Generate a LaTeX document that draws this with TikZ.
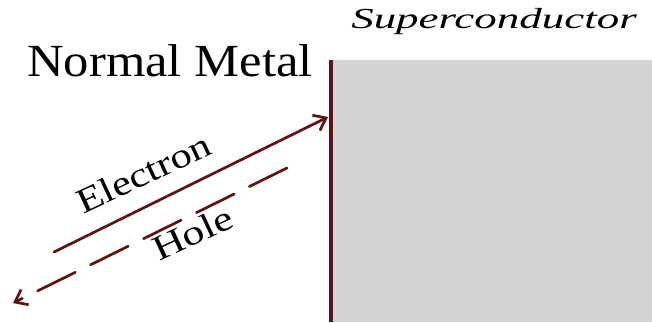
\documentclass[tikz,border=0pt]{standalone}
\usepackage{fontspec}
\setmainfont{Liberation Serif}
\usetikzlibrary{arrows.meta}
\definecolor{maroonline}{RGB}{95,18,18}
\definecolor{scgray}{RGB}{211,211,211}
\tikzset{
  wire/.style={draw=maroonline, line width=2.7pt, line cap=round},
  holewire/.style={wire, dash pattern=on 42pt off 17pt},
  barb/.style={-{Straight Barb[length=11pt,width=17pt,line width=2.7pt]}},
  bigtext/.style={inner sep=0pt, anchor=base, text=black},
  slanttext/.style={inner sep=0pt, anchor=base west, rotate=25, text=black}
}
\begin{document}
\begin{tikzpicture}[x=1pt,y=-1pt]
\useasboundingbox (0,0) rectangle (652,322);
% superconductor block
\fill[scgray] (333,60) rectangle (652,322);
% interface
\coordinate (itop) at (331,60);
\coordinate (ibot) at (331,322);
\draw[draw=maroonline, line width=3.5pt] (itop) -- (ibot);
% labels
\node[bigtext] (nm) at (170,76) {\scalebox{1.1}[1]{\fontsize{46}{46}\selectfont Normal Metal}};
\node[bigtext] (sc) at (494,28) {\scalebox{1.55}[1]{\fontsize{29}{29}\selectfont\itshape Superconductor}};
% electron
\coordinate (e1) at (54,252);
\coordinate (e2) at (328,117);
\draw[wire, barb] (e1) -- (e2);
\node[slanttext] (el) at (83,215) {\scalebox{1.22}[1]{\fontsize{35}{35}\selectfont Electron}};
% hole
\coordinate (h1) at (287,168);
\coordinate (h2) at (13,303);
\draw[holewire, barb] (h1) -- (h2);
\node[slanttext] (ho) at (159,262) {\scalebox{1.25}[1]{\fontsize{35}{35}\selectfont Hole}};
\end{tikzpicture}
\end{document}
